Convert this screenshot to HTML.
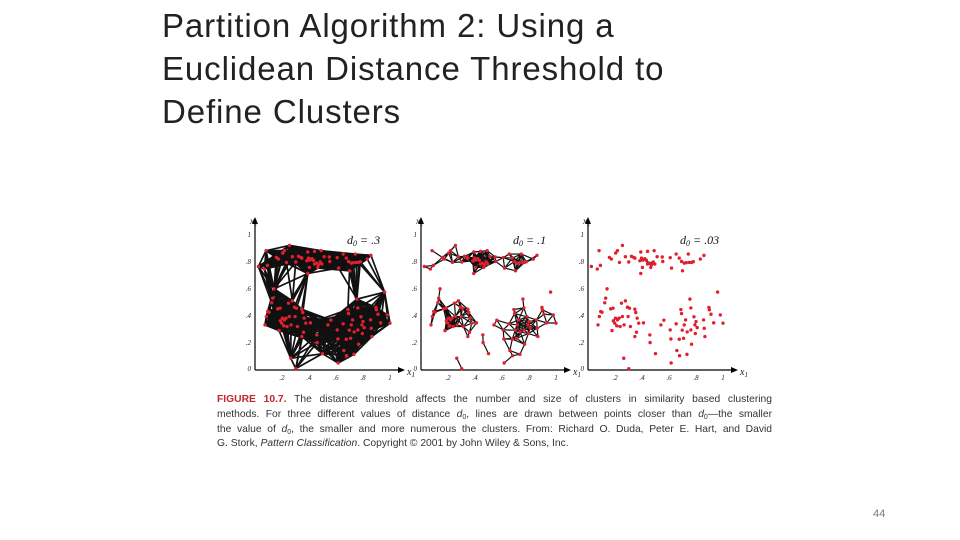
<!DOCTYPE html>
<html><head><meta charset="utf-8"><style>
html,body{margin:0;padding:0;background:#fff;}
body{width:960px;height:540px;position:relative;overflow:hidden;font-family:"Liberation Sans",sans-serif;}
#title{position:absolute;left:162px;top:4px;font-size:33px;line-height:43px;color:#222;letter-spacing:0.9px;}
#caption{position:absolute;left:217px;top:393px;width:555px;font-size:10.3px;line-height:14.8px;color:#333;}
#caption div{text-align:justify;text-align-last:justify;white-space:nowrap;height:14.8px;}
#caption div.last{text-align-last:left;}
#caption b{color:#c0272d;}
#caption sub{font-size:7px;vertical-align:baseline;position:relative;top:2px;}
#pnum{position:absolute;left:873px;top:508px;font-size:11px;color:#777;}
svg{position:absolute;left:0;top:0;}
</style></head><body>
<div id="title">Partition Algorithm 2: Using a<br>Euclidean Distance Threshold to<br>Define Clusters</div>
<svg id="fig" width="960" height="540"></svg>
<div id="caption">
<div><b>FIGURE 10.7.</b> The distance threshold affects the number and size of clusters in similarity based clustering</div>
<div>methods. For three different values of distance <i>d</i><sub>0</sub>, lines are drawn between points closer than <i>d</i><sub>0</sub>—the smaller</div>
<div>the value of <i>d</i><sub>0</sub>, the smaller and more numerous the clusters. From: Richard O. Duda, Peter E. Hart, and David</div>
<div class="last">G. Stork, <i>Pattern Classification</i>. Copyright © 2001 by John Wiley &amp; Sons, Inc.</div>
</div>
<div id="pnum">44</div>
<script>
const thresholds=[0.3,0.1,0.03];
const thresholdLabels=[".3",".1",".03"];
const tickValues=[0.2,0.4,0.6,0.8,1];
const tickLabels=[".2",".4",".6",".8","1"];
const xs=[.025,.069,.082,.092,.158,.173,.205,.218,.233,.255,.277,.302,.322,.339,.347,.384,.391,.396,.406,.421,.433,.441,.455,.465,.470,.483,.490,.495,.512,.550,.554,.609,.619,.653,.676,.693,.700,.713,.728,.743,.750,.767,.780,.832,.859,.391,.403,.441,
.074,.084,.094,.104,.124,.131,.141,.168,.186,.178,.188,.198,.203,.213,.218,.230,.238,.248,.255,.267,.277,.292,.297,.307,.314,.347,.354,.364,.347,.359,.376,.411,.458,.460,.265,.302,.500,
.540,.562,.609,.614,.616,.653,.658,.676,.678,.688,.693,.698,.708,.713,.733,.723,.755,.762,.762,.767,.785,.792,.800,.809,.856,.861,.866,.896,.899,.911,.931,.960,.980,1.0,.795,.735];
const ys=[.767,.748,.884,.775,.834,.822,.866,.884,.797,.923,.839,.800,.842,.834,.829,.809,.874,.829,.814,.824,.812,.879,.792,.760,.780,.800,.884,.785,.839,.837,.804,.832,.755,.859,.829,.804,.735,.792,.795,.859,.797,.797,.802,.822,.849,.715,.760,.785,
.334,.396,.433,.428,.498,.532,.601,.453,.458,.292,.364,.347,.384,.327,.371,.384,.322,.495,.396,.334,.512,.465,.396,.458,.322,.450,.426,.384,.248,.280,.347,.349,.260,.203,.087,.010,.121,
.334,.369,.297,.230,.052,.342,.144,.228,.106,.448,.418,.295,.235,.334,.116,.371,.525,.460,.297,.191,.394,.334,.359,.314,.371,.309,.248,.463,.446,.413,.349,.577,.408,.347,.270,.282];

const NS="http://www.w3.org/2000/svg";
const svg=document.getElementById('fig');
const origins=[255,421,588], Y0=370, S=135;
const strokeW=[1.7,1.2,1.0];
function mk(tag,attrs,parent){const e=document.createElementNS(NS,tag);for(const k in attrs)e.setAttribute(k,attrs[k]);parent.appendChild(e);return e;}
thresholds.forEach((d,p)=>{
  const X0=origins[p];
  const sx=v=>X0+v*S, sy=v=>Y0-v*S;
  const g=mk('g',{},svg);
  
  
  const lg=mk('g',{stroke:'#111','stroke-width':strokeW[p]},g);
  
  
  for(let i=0;i<xs.length;i++)for(let j=i+1;j<xs.length;j++){
    const dx=xs[i]-xs[j],dy=ys[i]-ys[j];
    if(dx*dx+dy*dy<d*d){
      const l=mk('line',{x1:sx(xs[i]),y1:sy(ys[i]),x2:sx(xs[j]),y2:sy(ys[j])},lg);
      
      
    }
  }
  const ax=mk('g',{stroke:'#000','stroke-width':1.2,fill:'none'},g);
  
  
  mk('line',{x1:X0,y1:Y0,x2:X0+146,y2:Y0},ax);
  mk('line',{x1:X0,y1:Y0,x2:X0,y2:Y0-150},ax);
  mk('path',{d:`M${X0+150},${Y0} l-7,-3 l0,6z`,fill:'#000',stroke:'none'},g);
  mk('path',{d:`M${X0},${Y0-153} l-3,7 l6,0z`,fill:'#000',stroke:'none'},g);
  const tst='font-family:"Liberation Serif",serif;font-style:italic;font-size:7px;fill:#222';
  let t=mk('text',{x:X0-4,y:Y0+1,'text-anchor':'end',style:tst},g);t.textContent='0';
  tickValues.forEach((v,k)=>{
    let a=mk('text',{x:sx(v),y:Y0+10,'text-anchor':'middle',style:tst},g);a.textContent=tickLabels[k];
    
    
    let b=mk('text',{x:X0-4,y:sy(v)+2,'text-anchor':'end',style:tst},g);b.textContent=tickLabels[k];
    
    
  });
  let xl=mk('text',{x:X0+152,y:Y0+5,style:'font-family:"Liberation Serif",serif;font-style:italic;font-size:10px;fill:#222'},g);
  xl.innerHTML='x<tspan font-size="7" dy="2">1</tspan>';
  
  
  let yl=mk('text',{x:X0-5,y:Y0-146,style:'font-family:"Liberation Serif",serif;font-style:italic;font-size:9px;fill:#222'},g);
  yl.innerHTML='x<tspan font-size="6" dy="2">2</tspan>';
  
  
  let dl=mk('text',{x:X0+92,y:Y0-126,style:'font-family:"Liberation Serif",serif;font-style:italic;font-size:12px;fill:#111'},g);
  dl.innerHTML='d<tspan font-size="8" dy="2">0</tspan><tspan dy="-2"> = '+thresholdLabels[p]+'</tspan>';
  
  
  const pg=mk('g',{fill:'#e0202e'},g);
  
  
  for(let i=0;i<xs.length;i++){
    const c=mk('circle',{cx:sx(xs[i]),cy:sy(ys[i]),r:1.7},pg);
    
    
  }
});
</script>
</body></html>
